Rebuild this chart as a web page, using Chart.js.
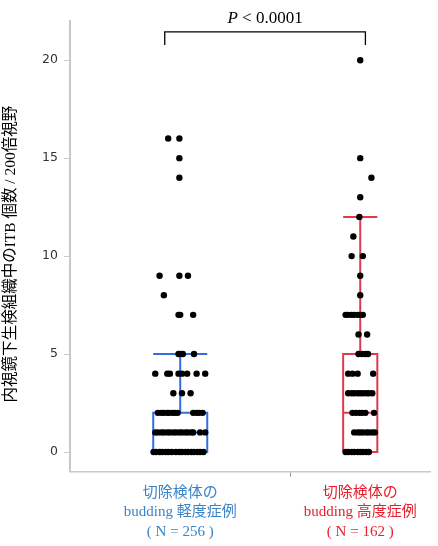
<!DOCTYPE html>
<html>
<head>
<meta charset="utf-8">
<script src="https://cdn.jsdelivr.net/npm/chart.js@4.4.1/dist/chart.umd.min.js"></script>
<style>
  html, body { margin: 0; padding: 0; background: #fff; }
</style>
</head>
<body>
<canvas id="chart" width="438" height="546"></canvas>
<script>
// group labels and counts (x axis width of each group follows N, JMP style)
const groupLabels = [
  ['切除検体の', 'budding 軽度症例', '( N = 256 )'],
  ['切除検体の', 'budding 高度症例', '( N = 162 )']
];
const groupN = [256, 162];
const groupColors = ['#2f6fe0', '#de3a4e'];
const labelColors = ['#3a84c8', '#e8202e'];

// box plot summary
const whiskerLow = [0, 0];
const q1 = [0, 0];
const median = [1, 2];
const q3 = [2, 5];
const whiskerHigh = [5, 12];

// individual cases (value and horizontal jitter, in cases)
const mildValues = [
  16, 16, 15, 14, 9, 9, 9, 8, 7, 7, 7, 5, 5, 5, 5,
  4, 4, 4, 4, 4, 4, 4, 4, 3, 3, 3,
  2, 2, 2, 2, 2, 2, 2, 2, 2, 2, 2, 2,
  1, 1, 1, 1, 1, 1, 1, 1, 1, 1, 1, 1, 1, 1, 1, 1,
  0, 0, 0, 0, 0, 0, 0, 0, 0, 0, 0, 0, 0, 0, 0, 0, 0
];
const mildJitter = [
  -14, -1, -1, -1, -24, -1, 9, -19, -2, 0, 15, -2, 0, 3, 16,
  -29, -15, -12, -2, 2, 8, 19, 29, -8, 2, 12,
  -26, -22, -19, -15, -13, -9, -6, -3, 15, 19, 22, 26,
  -29, -26, -22, -19, -15, -12, -8, -5, -1, 2, 6, 9, 13, 15, 23, 29,
  -31, -28, -24, -21, -17, -14, -10, -5, -1, 2, 6, 9, 13, 16, 20, 23, 27
];
const severeValues = [
  20, 15, 14, 13, 12, 11, 10, 10, 9, 8,
  7, 7, 7, 7, 7, 7, 7, 6, 6, 5, 5, 5, 5,
  4, 4, 4, 4, 3, 3, 3, 3, 3, 3, 3, 3, 3,
  2, 2, 2, 2, 2, 2, 1, 1, 1, 1, 1, 1, 1, 1,
  0, 0, 0, 0, 0, 0, 0, 0, 0
];
const severeJitter = [
  0, 0, 13, 0, -1, -8, -10, 3, 0, 0,
  -17, -14, -10, -7, -3, 0, 3, -2, 8, -2, 2, 6, 9,
  -14, -9, -3, 15, -14, -10, -7, -3, 0, 3, 7, 10, 14,
  -9, -5, -1, 2, 6, 16, -7, -3, 0, 3, 7, 10, 14, 17,
  -17, -14, -10, -7, -3, 0, 3, 7, 10
];

const yTicks = [0, 5, 10, 15, 20];
const yMin = -1;
const yMax = 22;
const bracketX = [110, 343];
const bracketY = [20.78, 21.44];
const pText = '< 0.0001';

// centres of each group along the x axis
const centers = [groupN[0] / 2, groupN[0] + groupN[1] / 2];
const divider = groupN[0];
const boxFrac = 0.245;

function boxOutline(i) {
  const c = centers[i];
  const hw = groupN[i] * boxFrac / 2;
  const gap = { x: null, y: null };
  return [
    { x: c - hw, y: q1[i] }, { x: c + hw, y: q1[i] }, { x: c + hw, y: q3[i] },
    { x: c - hw, y: q3[i] }, { x: c - hw, y: q1[i] }, gap,
    { x: c - hw, y: median[i] }, { x: c + hw, y: median[i] }, gap,
    { x: c, y: q3[i] }, { x: c, y: whiskerHigh[i] }, gap,
    { x: c - hw, y: whiskerHigh[i] }, { x: c + hw, y: whiskerHigh[i] }, gap,
    { x: c, y: q1[i] }, { x: c, y: whiskerLow[i] }
  ];
}

function casePoints(i, values, jitter) {
  return values.map((v, k) => ({ x: centers[i] + jitter[k], y: v }));
}

const pLabel = {
  id: 'pLabel',
  afterDraw(chart) {
    const { ctx, scales } = chart;
    const mid = (scales.x.getPixelForValue(bracketX[0]) + scales.x.getPixelForValue(bracketX[1])) / 2;
    const top = scales.y.getPixelForValue(bracketY[1]);
    ctx.save();
    ctx.fillStyle = '#000';
    ctx.textBaseline = 'alphabetic';
    ctx.font = 'italic 17px "Liberation Serif"';
    const wP = ctx.measureText('P ').width;
    ctx.font = '17px "Liberation Serif"';
    const wT = ctx.measureText(pText).width;
    const x0 = mid - (wP + wT) / 2;
    ctx.font = 'italic 17px "Liberation Serif"';
    ctx.fillText('P', x0, top - 9);
    ctx.font = '17px "Liberation Serif"';
    ctx.fillText(pText, x0 + wP, top - 9);
    ctx.restore();
  }
};

const lineSet = (data, color, width) => ({
  data, showLine: true, borderColor: color, borderWidth: width,
  pointRadius: 0, fill: false, order: 2
});

new Chart(document.getElementById('chart'), {
  type: 'scatter',
  data: {
    datasets: [
      {
        data: casePoints(0, mildValues, mildJitter),
        pointRadius: 3.2, pointBackgroundColor: '#000', pointBorderWidth: 0, order: 0
      },
      {
        data: casePoints(1, severeValues, severeJitter),
        pointRadius: 3.2, pointBackgroundColor: '#000', pointBorderWidth: 0, order: 0
      },
      lineSet(boxOutline(0), groupColors[0], 2),
      lineSet(boxOutline(1), groupColors[1], 2),
      lineSet([
        { x: bracketX[0], y: bracketY[0] }, { x: bracketX[0], y: bracketY[1] },
        { x: bracketX[1], y: bracketY[1] }, { x: bracketX[1], y: bracketY[0] }
      ], '#000', 1.3)
    ]
  },
  options: {
    responsive: false,
    animation: false,
    layout: { padding: { top: 21, right: 8, bottom: 0, left: 0 } },
    plugins: {
      legend: { display: false },
      tooltip: { enabled: false }
    },
    scales: {
      x: {
        type: 'linear',
        min: 0,
        max: groupN[0] + groupN[1],
        afterBuildTicks: (scale) => {
          scale.ticks = [{ value: centers[0] }, { value: divider }, { value: centers[1] }];
        },
        afterFit: (scale) => { scale.height = 74.4; },
        border: { display: true, color: '#c8c8c8', width: 1.5 },
        grid: {
          drawOnChartArea: false,
          tickLength: 5,
          color: (ctx) => ctx.index === 1 ? '#999' : 'rgba(0,0,0,0)'
        },
        ticks: {
          autoSkip: false,
          maxRotation: 0,
          padding: 7,
          font: { family: '"Liberation Serif", "Noto Sans CJK JP"', size: 15, lineHeight: 1.28 },
          color: (ctx) => ctx.index === 2 ? labelColors[1] : labelColors[0],
          callback: (value, index) => index === 0 ? groupLabels[0] : index === 2 ? groupLabels[1] : ''
        }
      },
      y: {
        min: yMin,
        max: yMax,
        afterBuildTicks: (scale) => {
          scale.ticks = yTicks.map(v => ({ value: v }));
        },
        afterFit: (scale) => { scale.width = 70; },
        border: { display: true, color: '#c8c8c8', width: 2 },
        grid: { drawOnChartArea: false, tickLength: 6, color: '#c8c8c8' },
        ticks: {
          padding: 6,
          color: '#333',
          font: { family: '"DejaVu Sans"', size: 12.5 }
        },
        title: {
          display: true,
          text: '内視鏡下生検組織中のITB 個数 / 200倍視野\u2003',
          color: '#000',
          padding: { top: 2, bottom: 0 },
          font: { family: '"Liberation Serif", "Noto Sans CJK JP"', size: 15.5 }
        }
      }
    }
  },
  plugins: [pLabel]
});
</script>
</body>
</html>
